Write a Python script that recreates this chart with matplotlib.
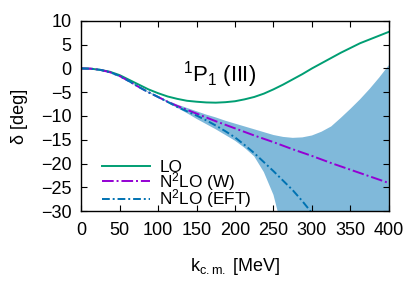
import numpy as np
import matplotlib
matplotlib.use("Agg")
import matplotlib.pyplot as plt

plt.rcParams['font.family'] = ['Liberation Sans', 'DejaVu Sans']
plt.rcParams['mathtext.fontset'] = 'custom'
plt.rcParams['mathtext.rm'] = 'Liberation Sans'
plt.rcParams['mathtext.it'] = 'Liberation Sans:italic'

# momentum grid [MeV], step 12.5
k = list(np.arange(0, 401, 12.5))

# phase shifts [deg]
lo = [0, -0.05, -0.3, -0.7, -1.4, -2.4, -3.4, -4.4, -5.2, -5.9, -6.4, -6.8, -7.0, -7.15, -7.2, -7.1,
      -6.9, -6.5, -6.0, -5.3, -4.4, -3.4, -2.3, -1.2, 0.0, 1.1, 2.2, 3.3, 4.3, 5.3, 6.1, 6.9, 7.7]
n2lo_w = [0, -0.05, -0.3, -0.8, -1.6, -2.7, -3.9, -5.0, -6.0, -7.0, -7.9, -8.7, -9.5, -10.3, -11.1, -11.85,
          -12.6, -13.35, -14.1, -14.8, -15.5, -16.25, -17.0, -17.7, -18.4, -19.15, -19.9, -20.6, -21.3, -22.0,
          -22.7, -23.4, -24.1]
n2lo_eft = [0, -0.05, -0.3, -0.8, -1.6, -2.7, -3.9, -5.0, -6.0, -7.05, -8.1, -9.0, -9.9, -10.9, -12.0, -13.2,
            -14.5, -16.1, -17.8, -19.7, -21.6, -23.6, -25.6, -27.9, -30.4, -33.0, -35.5, -38.0, -41.0, -44.0,
            -47.0, -50.0, -53.0]

# uncertainty band of N2LO (EFT)
band_hi = [0, -0.05, -0.3, -0.8, -1.5, -2.6, -3.8, -4.9, -5.8, -6.8, -7.6, -8.3, -9.0, -9.7, -10.3, -11.0,
           -11.6, -12.2, -12.8, -13.4, -14.0, -14.4, -14.6, -14.5, -14.1, -13.3, -12.2, -10.4, -8.5, -6.5,
           -4.3, -1.9, 0.7]
band_lo = [0, -0.05, -0.3, -0.8, -1.6, -2.8, -4.0, -5.1, -6.1, -7.2, -8.3, -9.4, -10.6, -11.7, -12.8, -14.0,
           -15.2, -16.7, -18.5, -21.8, -26.6, -34.5, -42.0, -50.0, -58.0, -67.0, -76.0, -86.0, -96.0, -107.0,
           -118.0, -130.0, -142.0]

fig = plt.figure(figsize=(4.2, 2.94), dpi=100)
ax = fig.add_axes([0.193, 0.282, 0.733, 0.647])

ax.fill_between(k, band_lo, band_hi, color='#80b9da', lw=0)
ax.plot(k, lo, color='#009e73', lw=1.4, label='LO')
ax.plot(k, n2lo_w, color='#9400d3', lw=1.4, dashes=(6, 1.5, 1, 1.5), label='N$^2$LO (W)')
ax.plot(k, n2lo_eft, color='#0072b2', lw=1.4, dashes=(4, 1.5, 1, 1.5), label='N$^2$LO (EFT)')

ax.set_xlim(0, 400)
ax.set_ylim(-30, 10)
ax.set_xticks(np.arange(0, 401, 50))
ax.set_yticks(np.arange(-30, 11, 5))
ax.tick_params(direction='in', top=True, right=True, length=4, labelsize=13)
ax.tick_params(axis='x', pad=8)
ax.tick_params(axis='y', pad=7)
for s in ax.spines.values():
    s.set_linewidth(1.0)

ax.set_xlabel('k$_{\\mathrm{c.m.}}$ [MeV]', fontsize=13, labelpad=12)
ax.set_ylabel('δ [deg]', fontsize=13, labelpad=9)

ax.text(180, -2.8, '$^1$P$_1$ (III)', fontsize=16, ha='center', va='baseline')

ax.legend(loc='lower left', bbox_to_anchor=(0.03, -0.06), frameon=False, fontsize=12.4,
          handlelength=2.75, handletextpad=0.55, labelspacing=-0.3, borderaxespad=0.3)

fig.savefig('out.png', dpi=100)
